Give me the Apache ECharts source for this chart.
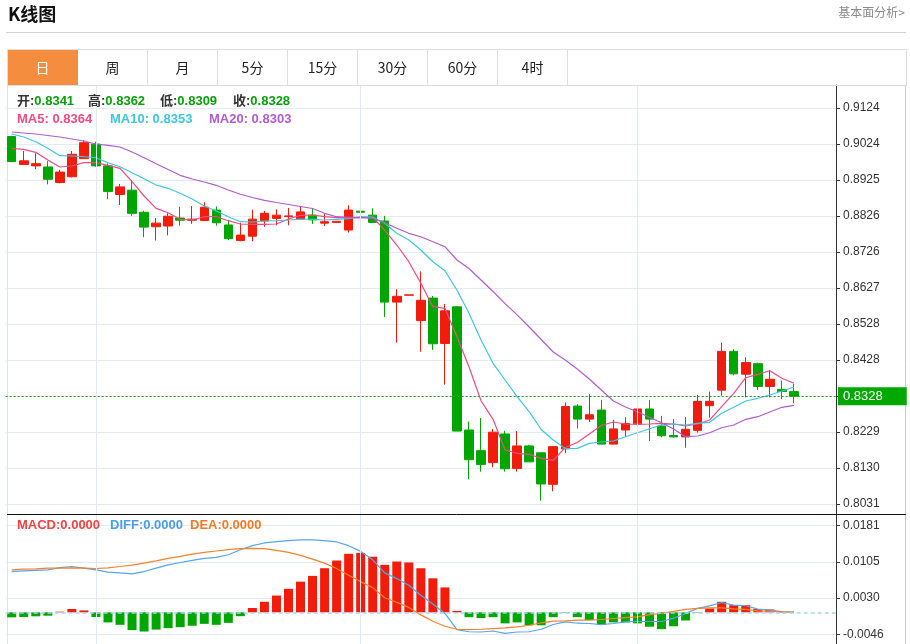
<!DOCTYPE html>
<html><head><meta charset="utf-8"><title>K线图</title>
<script src="https://cdn.jsdelivr.net/npm/echarts@6.0.0/dist/echarts.min.js"></script>
<style>
html,body{margin:0;padding:0;background:#fff;}
body{width:910px;height:644px;position:relative;overflow:hidden;font-family:"Noto Sans CJK SC","Noto Sans",sans-serif;}
#chart{position:absolute;left:0;top:0;width:910px;height:644px;}
.title{position:absolute;left:8px;top:0px;font-size:18px;font-weight:bold;color:#111;line-height:26px;}
.link{position:absolute;right:5px;top:3px;font-size:12px;color:#8a8a8a;line-height:18px;}
.hr{position:absolute;left:6px;width:900px;top:32px;height:1px;background:#d2d2d2;}
.tabs{position:absolute;left:7px;top:49px;width:898px;height:35px;border:1px solid #dedede;}
.tab{position:absolute;top:0;width:70px;height:35px;line-height:35px;text-align:center;font-size:14px;color:#222;border-right:1px solid #dedede;box-sizing:border-box;}
.tab.active{background:#f58d3f;color:#fff;border-right-color:#f58d3f;}
</style></head>
<body>
<div id="chart"></div>
<div class="title">K线图</div>
<div class="link">基本面分析&gt;</div>
<div class="hr"></div>
<div class="tabs" id="tabs"></div>
<script>
// ---------- data ----------
const tabLabels = ['日','周','月','5分','15分','30分','60分','4时'];
const categories = Array.from({length: 69}, (_, i) => 'D' + (i + 1));
const dividerIdx = [7, 29, 52];

const openP = [0.9045,0.8968,0.8964,0.8961,0.8918,0.8934,0.8984,0.9024,0.8964,0.8885,
 0.8897,0.8836,0.8796,0.8798,0.8820,0.8814,0.8813,0.8842,0.8801,0.8758,
 0.8770,0.8812,0.8819,0.8824,0.8817,0.8828,0.8806,0.8808,0.8787,0.8839,
 0.8828,0.8812,0.8588,0.8607,0.8537,0.8599,0.8474,0.8575,0.8235,0.8178,
 0.8145,0.8224,0.8129,0.8191,0.8172,0.8085,0.8183,0.8301,0.8265,0.8290,
 0.8196,0.8235,0.8252,0.8293,0.8246,0.8220,0.8216,0.8234,0.8302,0.8345,
 0.8452,0.8389,0.8418,0.8355,0.8347,0.8341];
const closeP = [0.8976,0.8978,0.8970,0.8927,0.8947,0.8996,0.9028,0.8964,0.8893,0.8906,
 0.8833,0.8795,0.8806,0.8825,0.8814,0.8817,0.8850,0.8807,0.8763,0.8773,
 0.8817,0.8833,0.8828,0.8826,0.8837,0.8815,0.8810,0.8811,0.8842,0.8836,
 0.8808,0.8588,0.8604,0.8608,0.8593,0.8473,0.8564,0.8232,0.8153,0.8140,
 0.8229,0.8128,0.8191,0.8147,0.8086,0.8189,0.8300,0.8265,0.8277,0.8196,
 0.8238,0.8253,0.8293,0.8265,0.8219,0.8216,0.8237,0.8314,0.8314,0.8452,
 0.8390,0.8421,0.8355,0.8375,0.8341,0.8328];
const highP = [0.9047,0.9005,0.8999,0.8977,0.8953,0.9005,0.9035,0.9031,0.8971,0.8914,
 0.8925,0.8840,0.8820,0.8833,0.8851,0.8853,0.8864,0.8852,0.8815,0.8807,
 0.8843,0.8840,0.8844,0.8848,0.8851,0.8848,0.8831,0.8811,0.8855,0.8845,
 0.8847,0.8826,0.8624,0.8608,0.8673,0.8605,0.8583,0.8577,0.8258,0.8268,
 0.8238,0.8233,0.8232,0.8194,0.8172,0.8191,0.8311,0.8306,0.8334,0.8318,
 0.8263,0.8270,0.8333,0.8318,0.8274,0.8265,0.8271,0.8332,0.8341,0.8476,
 0.8458,0.8436,0.8421,0.8400,0.8371,0.8362];
const lowP = [0.8974,0.8967,0.8955,0.8913,0.8916,0.8932,0.8983,0.8962,0.8872,0.8856,
 0.8826,0.8767,0.8758,0.8772,0.8799,0.8804,0.8812,0.8799,0.8759,0.8756,
 0.8756,0.8796,0.8800,0.8800,0.8816,0.8804,0.8798,0.8808,0.8780,0.8832,
 0.8807,0.8547,0.8476,0.8607,0.8451,0.8456,0.8360,0.8232,0.8099,0.8120,
 0.8132,0.8120,0.8120,0.8147,0.8040,0.8066,0.8171,0.8239,0.8257,0.8196,
 0.8196,0.8216,0.8238,0.8205,0.8215,0.8214,0.8186,0.8228,0.8269,0.8330,
 0.8386,0.8325,0.8345,0.8325,0.8320,0.8309];

const ma5 = [0.90125,0.90098,0.90015,0.89802,0.89609,0.89637,0.89728,0.89728,0.89656,0.89573,
 0.89203,0.88809,0.88469,0.88348,0.88165,0.88146,0.88237,0.88237,0.88127,0.88036,
 0.88027,0.88027,0.88036,0.88174,0.88276,0.88284,0.88237,0.88210,0.88221,0.88210,
 0.88215,0.87870,0.87456,0.86995,0.86399,0.85753,0.85709,0.84925,0.84097,0.83158,
 0.82645,0.81798,0.81707,0.81679,0.81568,0.81513,0.81867,0.82005,0.82239,0.82474,
 0.82570,0.82515,0.82507,0.82515,0.82534,0.82515,0.82460,0.82515,0.82626,0.82993,
 0.83363,0.83793,0.83887,0.83986,0.83777,0.83640];
const ma10 = [0.90520,0.90437,0.90307,0.90125,0.89921,0.89913,0.89893,0.89866,0.89728,0.89617,
 0.89452,0.89286,0.89112,0.89021,0.88883,0.88726,0.88533,0.88395,0.88237,0.88099,
 0.88091,0.88119,0.88127,0.88146,0.88174,0.88165,0.88146,0.88165,0.88182,0.88237,
 0.88229,0.88055,0.87779,0.87594,0.87318,0.86995,0.86747,0.86214,0.85571,0.84834,
 0.84191,0.83730,0.83269,0.82855,0.82363,0.82074,0.81839,0.81844,0.81982,0.82018,
 0.82046,0.82165,0.82275,0.82385,0.82488,0.82515,0.82488,0.82534,0.82562,0.82811,
 0.82976,0.83150,0.83225,0.83316,0.83426,0.83530];
const ma20 = [0.90575,0.90548,0.90520,0.90479,0.90437,0.90382,0.90327,0.90244,0.90208,0.90161,
 0.90023,0.89866,0.89700,0.89540,0.89380,0.89278,0.89195,0.89104,0.88974,0.88856,
 0.88767,0.88690,0.88629,0.88574,0.88519,0.88464,0.88331,0.88237,0.88210,0.88221,
 0.88188,0.88072,0.87917,0.87779,0.87685,0.87547,0.87409,0.87042,0.86807,0.86490,
 0.86173,0.85839,0.85527,0.85193,0.84848,0.84503,0.84282,0.84033,0.83757,0.83454,
 0.83150,0.82984,0.82855,0.82700,0.82551,0.82377,0.82165,0.82184,0.82275,0.82413,
 0.82488,0.82645,0.82717,0.82846,0.82976,0.83031];

const diffL = [0.00848,0.00865,0.00876,0.00886,0.00932,0.00956,0.00922,0.00886,0.00838,0.00823,
 0.00802,0.00851,0.00922,0.00991,0.01040,0.01082,0.01124,0.01145,0.01201,0.01306,
 0.01390,0.01447,0.01474,0.01495,0.01510,0.01510,0.01495,0.01468,0.01390,0.01271,
 0.01096,0.00823,0.00704,0.00565,0.00355,0.00172,-0.00023,-0.00359,-0.00405,-0.00410,
 -0.00389,-0.00437,-0.00410,-0.00405,-0.00353,-0.00254,-0.00200,-0.00227,-0.00233,-0.00258,
 -0.00233,-0.00200,-0.00191,-0.00191,-0.00191,-0.00122,-0.00025,0.00082,0.00134,0.00206,
 0.00151,0.00137,0.00067,0.00048,0.00015,0.00004];
const deaL = [0.00886,0.00901,0.00907,0.00922,0.00924,0.00928,0.00922,0.00914,0.00928,0.00956,
 0.00985,0.01027,0.01075,0.01124,0.01166,0.01216,0.01250,0.01279,0.01306,0.01327,
 0.01334,0.01327,0.01292,0.01250,0.01187,0.01111,0.01027,0.00914,0.00775,0.00641,
 0.00515,0.00305,0.00208,0.00103,-0.00053,-0.00185,-0.00290,-0.00353,-0.00359,-0.00353,
 -0.00338,-0.00326,-0.00305,-0.00269,-0.00221,-0.00185,-0.00179,-0.00164,-0.00164,-0.00149,
 -0.00128,-0.00111,-0.00095,-0.00048,-0.00021,0.00019,0.00061,0.00082,0.00095,0.00095,
 0.00074,0.00061,0.00032,0.00019,0.00011,0.00004];
const macdBar = [-0.00104,-0.00097,-0.00083,-0.00070,0.00014,0.00070,0.00040,-0.00097,-0.00210,-0.00260,
 -0.00370,-0.00400,-0.00360,-0.00330,-0.00310,-0.00280,-0.00240,-0.00260,-0.00220,-0.00080,
 0.00090,0.00220,0.00350,0.00490,0.00640,0.00760,0.00920,0.01080,0.01220,0.01240,
 0.01160,0.00990,0.01060,0.01040,0.00920,0.00710,0.00520,0.00030,-0.00100,-0.00120,
 -0.00100,-0.00230,-0.00210,-0.00270,-0.00270,-0.00100,-0.00010,-0.00100,-0.00160,-0.00260,
 -0.00210,-0.00210,-0.00230,-0.00300,-0.00350,-0.00290,-0.00170,-0.00010,0.00080,0.00220,
 0.00150,0.00150,0.00070,0.00060,0.00010,0];

// axis scales (tick labels come from min + k*step)
const PRICE_MIN = 0.803072, PRICE_STEP = 0.009937, PRICE_MAX = 0.912379;
const MACD_MIN = -0.00458, MACD_STEP = 0.00755, MACD_MAX = 0.01807;

// ---------- tabs ----------
const tabsEl = document.getElementById('tabs');
tabLabels.forEach((t, i) => {
  const d = document.createElement('div');
  d.className = 'tab' + (i === 0 ? ' active' : '');
  d.style.left = (i * 70) + 'px';
  d.textContent = t;
  tabsEl.appendChild(d);
});

// ---------- chart ----------
const RED = '#f21c0c', GREEN = '#00a600';
const C_MA5 = '#ee4c80', C_MA10 = '#3ec6de', C_MA20 = '#b05ccb';
const C_DIFF = '#55a6ee', C_DEA = '#f5822a';
const FONT = "'Liberation Sans','Noto Sans CJK SC',sans-serif";
const last = openP.length - 1;
const f4 = v => v.toFixed(4);

function chunk(left, top, text, rich) {
  return { left, top, padding: 0, text, textStyle: { rich } };
}
const richRow1 = {
  k: { color: '#333', fontSize: 13, fontFamily: FONT, lineHeight: 16 },
  v: { color: '#0a9f0a', fontSize: 13, fontFamily: FONT, lineHeight: 16 }
};
const richCol = c => ({ a: { color: c, fontSize: 13, fontFamily: FONT, lineHeight: 16 } });

const chart = echarts.init(document.getElementById('chart'));
const option = {
  animation: false,
  textStyle: { fontFamily: FONT },
  title: [
    chunk(17, 93, `{k|开:}{v|${f4(openP[last])}}`, richRow1),
    chunk(88, 93, `{k|高:}{v|${f4(highP[last])}}`, richRow1),
    chunk(160, 93, `{k|低:}{v|${f4(lowP[last])}}`, richRow1),
    chunk(233, 93, `{k|收:}{v|${f4(closeP[last])}}`, richRow1),
    chunk(17, 111, `{a|MA5: ${f4(ma5[last])}}`, richCol(C_MA5)),
    chunk(110, 111, `{a|MA10: ${f4(ma10[last])}}`, richCol(C_MA10)),
    chunk(209, 111, `{a|MA20: ${f4(ma20[last])}}`, richCol(C_MA20)),
    chunk(17, 517, `{a|MACD:${f4(macdBar[last])}}`, richCol('#ec4343')),
    chunk(110, 517, `{a|DIFF:${f4(diffL[last])}}`, richCol('#4a9de8')),
    chunk(190, 517, `{a|DEA:${f4(deaL[last])}}`, richCol('#f07a24'))
  ],
  graphic: [
    { type: 'line', silent: true, shape: { x1: 7.5, y1: 85, x2: 7.5, y2: 644 }, style: { stroke: '#dbe3ea', lineWidth: 1 } },
    { type: 'line', silent: true, shape: { x1: 905.5, y1: 85, x2: 905.5, y2: 644 }, style: { stroke: '#c8c8c8', lineWidth: 1 } },
    { type: 'line', silent: true, z: 10, shape: { x1: 7, y1: 514.5, x2: 906, y2: 514.5 }, style: { stroke: '#111', lineWidth: 1 } }
  ],
  grid: [
    { left: 5.7, right: 74, top: 85, bottom: 0 },
    { left: 5.7, right: 74, top: 108, height: 396 },
    { left: 5.7, right: 74, top: 525.7, height: 108.6 }
  ],
  xAxis: [0, 1, 2].map(i => ({ gridIndex: i, type: 'category', data: categories, boundaryGap: true, show: false })),
  yAxis: [
    { gridIndex: 0, type: 'value', min: 0, max: 1, position: 'right',
      axisLine: { show: true, lineStyle: { color: '#333', width: 1 } },
      axisTick: { show: false }, axisLabel: { show: false }, splitLine: { show: false } },
    { gridIndex: 1, type: 'value', position: 'right', min: PRICE_MIN, max: PRICE_MAX, interval: PRICE_STEP,
      axisLine: { show: false },
      axisTick: { show: true, length: 4, lineStyle: { color: '#333' } },
      axisLabel: { color: '#333', fontSize: 12, margin: 7, formatter: f4 },
      splitLine: { show: true, lineStyle: { color: '#e3eaf0', width: 1 } } },
    { gridIndex: 2, type: 'value', position: 'right', min: MACD_MIN, max: MACD_MAX, interval: MACD_STEP,
      axisLine: { show: false },
      axisTick: { show: true, length: 4, lineStyle: { color: '#333' } },
      axisLabel: { color: '#333', fontSize: 12, margin: 7, formatter: f4 },
      splitLine: { show: true, lineStyle: { color: '#e3eaf0', width: 1 } } }
  ],
  series: [
    { type: 'line', xAxisIndex: 0, yAxisIndex: 0, data: [], silent: true,
      markLine: { silent: true, symbol: ['none', 'none'], animation: false,
        label: { show: false }, emphasis: { disabled: true },
        lineStyle: { color: '#e1e9f0', type: 'solid', width: 1 },
        data: dividerIdx.map(i => ({ xAxis: categories[i] })) } },
    { type: 'candlestick', xAxisIndex: 1, yAxisIndex: 1, barWidth: 9, silent: true,
      data: openP.map((o, i) => [o, closeP[i], lowP[i], highP[i]]),
      itemStyle: { color: RED, color0: GREEN, borderColor: RED, borderColor0: GREEN, borderWidth: 1 } },
    { type: 'line', xAxisIndex: 1, yAxisIndex: 1, data: ma5, symbol: 'none', silent: true,
      lineStyle: { width: 1.2, color: C_MA5 }, itemStyle: { color: C_MA5 } },
    { type: 'line', xAxisIndex: 1, yAxisIndex: 1, data: ma10, symbol: 'none', silent: true,
      lineStyle: { width: 1.2, color: C_MA10 }, itemStyle: { color: C_MA10 } },
    { type: 'line', xAxisIndex: 1, yAxisIndex: 1, data: ma20, symbol: 'none', silent: true,
      lineStyle: { width: 1.2, color: C_MA20 }, itemStyle: { color: C_MA20 } },
    { type: 'line', xAxisIndex: 1, yAxisIndex: 1, data: [], silent: true, z: 5,
      markLine: { silent: true, symbol: ['none', 'none'], animation: false, emphasis: { disabled: true },
        precision: 4,
        data: [{ yAxis: closeP[last] }],
        lineStyle: { color: '#2a9e2a', type: [2, 2], width: 1 },
        label: { show: true, position: 'end', distance: 2, formatter: f4(closeP[last]),
          color: '#fff', backgroundColor: '#00a800', fontSize: 13, padding: [3, 24, 2, 5], fontFamily: FONT } } },
    { type: 'bar', xAxisIndex: 2, yAxisIndex: 2, data: macdBar, barWidth: 9, silent: true,
      itemStyle: { color: p => (p.value >= 0 ? RED : GREEN) },
      markLine: { silent: true, symbol: ['none', 'none'], animation: false, emphasis: { disabled: true },
        data: [{ yAxis: 0 }], label: { show: false },
        lineStyle: { color: '#a9d6ef', type: [4, 3], width: 1.5 } } },
    { type: 'line', xAxisIndex: 2, yAxisIndex: 2, data: diffL, symbol: 'none', silent: true,
      lineStyle: { width: 1.2, color: C_DIFF }, itemStyle: { color: C_DIFF } },
    { type: 'line', xAxisIndex: 2, yAxisIndex: 2, data: deaL, symbol: 'none', silent: true,
      lineStyle: { width: 1.2, color: C_DEA }, itemStyle: { color: C_DEA } }
  ]
};
chart.setOption(option);
</script>
</body></html>
